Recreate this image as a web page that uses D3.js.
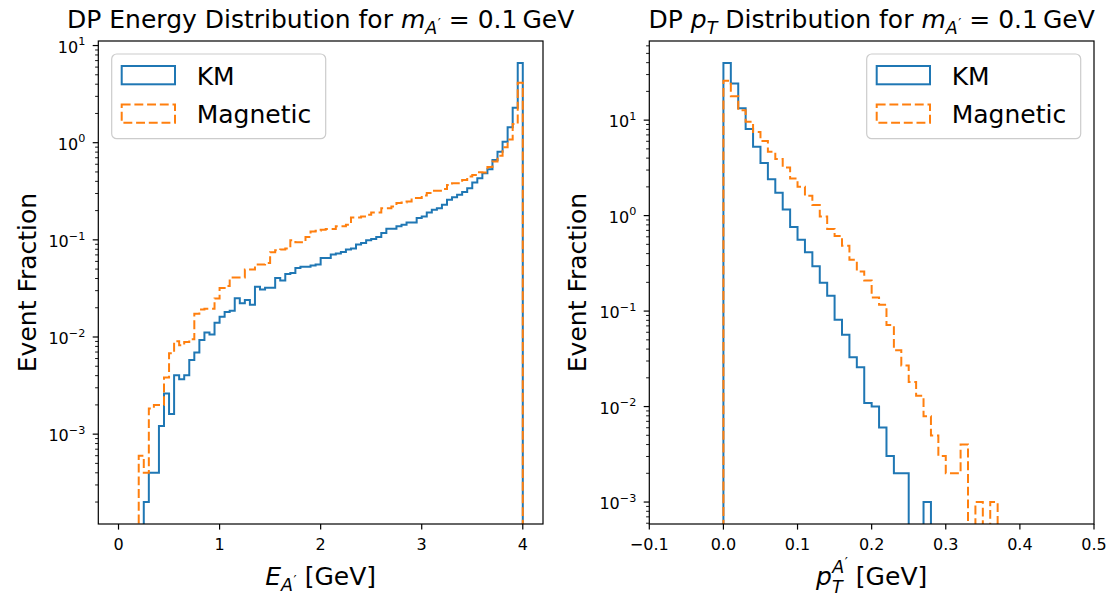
<!DOCTYPE html>
<html lang="en">
<head>
<meta charset="UTF-8">
<title>DP distributions</title>
<style>
  body { margin: 0; background: #fff; }
  svg text { font-family: "DejaVu Sans", sans-serif; fill: #000; }
</style>
</head>
<body>
<script src="https://cdn.jsdelivr.net/npm/d3@7"></script>
<script>
const width = 1116, height = 599;

// energy histogram: 80 bins of 0.05 GeV starting at 0
const energyBinStart = 0;
const energyBinWidth = 0.05;
const energyKM = [
  0, 0, 0, 0, 0, 2e-4, 4e-4, 4e-4, 1.21e-3, 2.62e-3,
  1.61e-3, 4.04e-3, 3.68e-3, 4.04e-3, 5.81e-3, 6.91e-3, 9.32e-3, 0.0111, 0.0106, 0.0140,
  0.0162, 0.0181, 0.0186, 0.0251, 0.0222, 0.0240, 0.0215, 0.0329, 0.0309, 0.0321,
  0.0321, 0.0406, 0.0381, 0.0446, 0.0457, 0.0514, 0.0527, 0.0527, 0.0544, 0.0557,
  0.0652, 0.0652, 0.0705, 0.0722, 0.0751, 0.0794, 0.0813, 0.0893, 0.0929, 0.0989,
  0.102, 0.107, 0.1175, 0.130, 0.130, 0.138, 0.143, 0.151, 0.151, 0.168,
  0.174, 0.191, 0.204, 0.212, 0.230, 0.258, 0.275, 0.291, 0.310, 0.340,
  0.389, 0.431, 0.485, 0.533, 0.665, 0.809, 1.02, 1.44, 2.29, 6.62
];
const energyMagnetic = [
  0, 0, 0, 0, 6e-4, 4e-4, 1.84e-3, 2.0e-3, 2.0e-3, 3.83e-3,
  6.81e-3, 9.04e-3, 8.22e-3, 8.9e-3, 9.48e-3, 0.0174, 0.0192, 0.0195, 0.0195, 0.0249,
  0.0319, 0.0334, 0.0409, 0.0409, 0.0409, 0.0494, 0.0494, 0.0557, 0.0557, 0.0579,
  0.0745, 0.0781, 0.0794, 0.0813, 0.0989, 0.0944, 0.0944, 0.107, 0.122, 0.124,
  0.127, 0.129, 0.129, 0.138, 0.138, 0.143, 0.170, 0.170, 0.174, 0.181,
  0.191, 0.191, 0.212, 0.212, 0.221, 0.239, 0.243, 0.248, 0.269, 0.269,
  0.286, 0.303, 0.320, 0.320, 0.333, 0.368, 0.383, 0.383, 0.414, 0.448,
  0.466, 0.496, 0.494, 0.562, 0.642, 0.733, 0.899, 1.08, 1.56, 4.13
];

// pT histogram: bins of 0.01 GeV starting at 0
const ptBinStart = 0;
const ptBinWidth = 0.01;
const ptKM = [
  39.7, 24.2, 13.3, 8.05, 5.26, 3.55, 2.40, 1.74, 1.16, 0.762,
  0.557, 0.414, 0.295, 0.198, 0.145, 0.081, 0.0566, 0.0328, 0.0258, 0.0109,
  0.0100, 0.00603, 0.00303, 0.002, 0.002, 0, 0, 0.001
];
const ptMagnetic = [
  25.8, 17.8, 12.7, 9.61, 7.49, 6.03, 4.67, 3.91, 3.20, 2.45,
  2.01, 1.61, 1.29, 0.977, 0.726, 0.613, 0.482, 0.344, 0.260, 0.209,
  0.139, 0.1165, 0.0714, 0.0388, 0.0270, 0.0181, 0.0130, 0.00792, 0.00498, 0.00303,
  0.002, 0.002, 0.004, 0, 0.001, 0, 0.001
];

const energyTicks = [0, 1, 2, 3, 4];
const ptTicks = [-0.1, 0.0, 0.1, 0.2, 0.3, 0.4, 0.5];
const ptRange = [-0.1, 0.5];
const decadeTicks = [-3, -2, -1, 0, 1];
const seriesNames = ["KM", "Magnetic"];
const seriesColors = ["#1f77b4", "#ff7f0e"];

const bigFont = 25, tickFont = 16;

const svg = d3.select("body").append("svg")
    .attr("width", width)
    .attr("height", height);

// temp text to measure widths
function textWidth(str, size, italic) {
    const t = svg.append("text").attr("font-size", size)
        .attr("font-style", italic ? "italic" : null).text(str);
    const w = t.node().getComputedTextLength();
    t.remove();
    return w;
}

// pieces: {t, it, s, b (baseline shift in em of base, + is down), dx}
function rich(textSel, pieces, base) {
    let prev = 0;
    pieces.forEach(p => {
        const b = p.b || 0;
        const ts = textSel.append("tspan")
            .attr("font-size", base * (p.s || 1))
            .attr("font-style", p.it ? "italic" : "normal")
            .attr("dy", (b - prev) * base)
            .text(p.t);
        if (p.dx) ts.attr("dx", p.dx);
        prev = b;
    });
}

// subscript A with a prime on it
const subA = [
    {t: "A", it: true, s: 0.7, b: 0.22},
    {t: "\u2032", s: 0.55, b: -0.02, dx: 0.5}
];

const massPieces = [
    {t: "m", it: true},
    ...subA,
    {t: " = 0.1\u2009GeV", b: 0}
];

function drawPanel(cfg) {
    const {left, right, top, bottom} = cfg;
    const g = svg.append("g");

    const x = d3.scaleLinear().domain(cfg.xDomain).range([left, right]);

    const positives = cfg.series.flat().filter(v => v > 0);
    const lo = Math.log10(d3.min(positives)), hi = Math.log10(d3.max(positives));
    const m = 0.05 * (hi - lo);
    const y = d3.scaleLog().domain([10 ** (lo - m), 10 ** (hi + m)]).range([bottom, top]);

    const clipId = "clip" + cfg.id;
    svg.append("clipPath").attr("id", clipId)
        .append("rect").attr("x", left).attr("y", top)
        .attr("width", right - left).attr("height", bottom - top);

    const floorY = bottom + 30;
    const line = d3.line();
    cfg.series.forEach((vals, si) => {
        const pts = [[x(cfg.binStart), floorY]];
        vals.forEach((v, i) => {
            const yy = v > 0 ? y(v) : floorY;
            pts.push([x(cfg.binStart + i * cfg.binWidth), yy]);
            pts.push([x(cfg.binStart + (i + 1) * cfg.binWidth), yy]);
        });
        pts.push([x(cfg.binStart + vals.length * cfg.binWidth), floorY]);
        g.append("path")
            .attr("clip-path", `url(#${clipId})`)
            .attr("d", line(pts))
            .attr("fill", "none")
            .attr("stroke", seriesColors[si])
            .attr("stroke-width", 2)
            .attr("stroke-linejoin", "miter")
            .attr("stroke-dasharray", si === 1 ? "8.9,3.8" : null);
    });

    // x ticks
    cfg.xTicks.forEach(t => {
        const xx = x(t);
        g.append("line").attr("x1", xx).attr("x2", xx)
            .attr("y1", bottom).attr("y2", bottom + 5.6)
            .attr("stroke", "#000").attr("stroke-width", 1.2);
        g.append("text").attr("x", xx).attr("y", 550)
            .attr("text-anchor", "middle").attr("font-size", tickFont)
            .text(cfg.xFormat(t));
    });

    // y ticks, majors at decades and minors 2..9
    const [d0, d1] = y.domain();
    for (let e = Math.floor(Math.log10(d0)); e <= Math.ceil(Math.log10(d1)); e++) {
        for (let k = 1; k <= 9; k++) {
            const v = k * 10 ** e;
            if (v < d0 || v > d1) continue;
            const yy = y(v);
            g.append("line").attr("x1", left).attr("x2", left - (k === 1 ? 5.6 : 3.2))
                .attr("y1", yy).attr("y2", yy)
                .attr("stroke", "#000").attr("stroke-width", k === 1 ? 1.2 : 0.9);
        }
    }
    decadeTicks.forEach(e => {
        const yy = y(10 ** e);
        const t = g.append("text").attr("x", left - 13).attr("y", yy + 7)
            .attr("text-anchor", "end").attr("font-size", tickFont);
        rich(t, [{t: "10"}, {t: e < 0 ? "\u2212" + (-e) : String(e), s: 0.7, b: -0.45}], tickFont);
    });

    // frame
    g.append("rect").attr("x", left).attr("y", top)
        .attr("width", right - left).attr("height", bottom - top)
        .attr("fill", "none").attr("stroke", "#000").attr("stroke-width", 1.2);

    // title
    const title = g.append("text").attr("x", (left + right) / 2).attr("y", 28)
        .attr("text-anchor", "middle").attr("font-size", bigFont);
    rich(title, cfg.title, bigFont);

    // x label
    const xl = g.append("text").attr("x", (left + right) / 2).attr("y", 585)
        .attr("text-anchor", "middle").attr("font-size", bigFont);
    rich(xl, cfg.xLabel, bigFont);

    // y label
    g.append("text")
        .attr("transform", `translate(${cfg.yLabelX},${(top + bottom) / 2}) rotate(-90)`)
        .attr("text-anchor", "middle").attr("font-size", bigFont)
        .text("Event Fraction");

    // legend
    const lg = g.append("g").attr("transform", `translate(${cfg.legendX},54)`);
    lg.append("rect").attr("width", 214).attr("height", 84.7)
        .attr("rx", 5).attr("ry", 5)
        .attr("fill", "#fff").attr("fill-opacity", 0.8)
        .attr("stroke", "#cccccc").attr("stroke-width", 1.2);
    seriesNames.forEach((name, i) => {
        const rowY = 12 + i * 38.5;
        lg.append("rect").attr("x", 10).attr("y", rowY)
            .attr("width", 53.3).attr("height", 18.3)
            .attr("fill", "none").attr("stroke", seriesColors[i]).attr("stroke-width", 2)
            .attr("stroke-dasharray", i === 1 ? "8.9,3.8" : null);
        lg.append("text").attr("x", 85).attr("y", rowY + 18.5)
            .attr("font-size", bigFont).text(name);
    });
}

const fmtPt = t => (t < 0 ? "\u2212" : "") + Math.abs(t).toFixed(1);

drawPanel({
    id: "E", left: 98.3, right: 543, top: 41, bottom: 524,
    xDomain: [energyBinStart - 0.05 * 4, energyBinStart + energyBinWidth * energyKM.length + 0.05 * 4],
    xTicks: energyTicks, xFormat: d => String(d),
    binStart: energyBinStart, binWidth: energyBinWidth,
    series: [energyKM, energyMagnetic],
    title: [{t: "DP Energy Distribution for "}, ...massPieces],
    xLabel: [{t: "E", it: true}, ...subA, {t: " [GeV]", b: 0}],
    yLabelX: 36, legendX: 111.7
});

const tW = textWidth("T", bigFont * 0.7, true);
drawPanel({
    id: "P", left: 649.3, right: 1094, top: 41, bottom: 524,
    xDomain: ptRange,
    xTicks: ptTicks, xFormat: fmtPt,
    binStart: ptBinStart, binWidth: ptBinWidth,
    series: [ptKM, ptMagnetic],
    title: [{t: "DP "}, {t: "p", it: true}, {t: "T", it: true, s: 0.7, b: 0.22},
            {t: " Distribution for ", b: 0}, ...massPieces],
    xLabel: [{t: "p", it: true}, {t: "T", it: true, s: 0.7, b: 0.3},
             {t: "A", it: true, s: 0.7, b: -0.5, dx: -tW + 2},
             {t: "\u2032", s: 0.55, b: -0.72, dx: 0.5},
             {t: " [GeV]", b: 0}],
    yLabelX: 586, legendX: 866.7
});
</script>
</body>
</html>
